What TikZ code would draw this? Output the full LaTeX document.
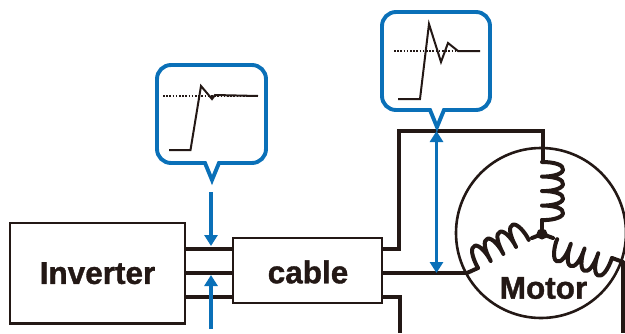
\documentclass[tikz,border=0pt]{standalone}
\usepackage{fontspec}
\setmainfont{Liberation Sans}[BoldFeatures={FakeBold=1.2}]
\usetikzlibrary{arrows.meta}
\definecolor{ink}{HTML}{231815}
\definecolor{sig}{HTML}{0A70B8}
\tikzset{
  x=1pt,y=-1pt,
  wire/.style={draw=ink,line width=3.9pt,line join=miter},
  boxn/.style={draw=ink,line width=2.8pt,fill=white,inner sep=0pt,font=\fontsize{31.5}{32}\selectfont\bfseries,text=ink},
  bubble/.style={draw=sig,line width=3.9pt,fill=white,line join=miter},
  trace/.style={draw=ink,line width=2pt,line join=miter},
  ref/.style={draw=ink,line width=1.8pt,dash pattern=on 1.6pt off 1.6pt},
  probe/.style={draw=sig,line width=3.8pt,-{Triangle[length=11pt,width=13pt]}},
  probeb/.style={draw=sig,line width=3.8pt,{Triangle[length=11pt,width=13pt]}-{Triangle[length=11pt,width=13pt]}},
  coilp/.style={draw=ink,line width=4pt,line join=round,line cap=round},
}
\newcommand{\coilfour}{%
  (0,0) .. controls (0,-13) and (3,-22) .. (8,-21) .. controls (13,-20) and (15,-7) .. (14.5,0)
  .. controls (14.5,-13) and (17.5,-22) .. (22.5,-21) .. controls (27.5,-20) and (29.5,-7) .. (29,0)
  .. controls (29,-13) and (32,-22) .. (37,-21) .. controls (42,-20) and (44,-7) .. (43.5,0)
  .. controls (43.5,-13) and (46.5,-22) .. (51.5,-21) .. controls (56.5,-20) and (58.5,-7) .. (58,0)}
\begin{document}
\begin{tikzpicture}
\useasboundingbox (0,0) rectangle (625,333);
\clip (0,0) rectangle (625,333);
\fill[white] (0,0) rectangle (625,333);

\coordinate (hub) at (542,234);
\coordinate (top) at (543,131);
\coordinate (corner) at (398.7,131);
\coordinate (coilT) at (542,162);
\coordinate (coilL) at (478,268);
\coordinate (coilR) at (612,258);

% motor
\node[circle,draw=ink,line width=2.6pt,minimum size=170pt,inner sep=0pt] (motor) at (541,233) {};

% wires
\draw[wire] (185,249) -- (233,249);
\draw[wire] (185,273) -- (233,273);
\draw[wire] (185,297) -- (233,297);
\draw[wire] (382,249) -| (corner) -- (top) -- (top |- coilT) -- (coilT);
\draw[wire] (382,273) -- (467,273);
\draw[wire] (382,297) -- (400,297) -- (400,333);
\draw[wire] (623,262) -- (623,333);

% boxes
\node[boxn,minimum width=175pt,minimum height=100.5pt] (inv) at (97.5,273.2) {Inverter};
\node[boxn,minimum width=149pt,minimum height=65pt] (cable) at (307.5,270.5) {};
\node[font=\fontsize{31.5}{32}\selectfont\bfseries,text=ink] (cablet) at (308,272) {cable};

% coils
\draw[coilp,shift={(coilT)},rotate=-90] \coilfour;
\draw[coilp,shift={(coilL)},rotate=29] \coilfour;
\draw[coilp,shift={(coilR)},rotate=161] \coilfour;
\draw[coilp] (542,220) -- (hub);
\draw[coilp] (532,238) -- (hub);
\draw[coilp] (553,238) -- (hub);
\draw[coilp] (coilL) -- (467,273);
\draw[coilp] (coilR) -- (623,262);
\fill[ink] (hub) circle (5.5);
\node[font=\fontsize{31.5}{32}\selectfont\bfseries,text=ink] (mot) at (543.5,288) {Motor};

% bubbles
\draw[bubble] (219,163) -- (212,180) -- (205,163) [rounded corners=14pt] -- (157,163) -- (157,65) -- (266,65) -- (266,163) [sharp corners] -- cycle;
\draw[bubble] (444,110) -- (437,127) -- (430,110) [rounded corners=14pt] -- (382,110) -- (382,12) -- (490,12) -- (490,110) [sharp corners] -- cycle;

% traces
\draw[ref] (163,96) -- (258,96);
\draw[trace] (169,150) -- (190.5,150) -- (201,86) -- (212,99) -- (215,95) -- (258,96);
\draw[ref] (394,50.7) -- (480,50.7);
\draw[trace] (398,99) -- (420,99) -- (429,24) -- (441,62) -- (448,43) -- (458,51) -- (480,51);

% probes
\coordinate (p1) at (211,192);
\coordinate (p1t) at (211,246);
\coordinate (p2) at (211,329);
\coordinate (p2t) at (211,275);
\coordinate (p3) at (436.5,131);
\coordinate (p3t) at (436.5,273);
\draw[probe] (p1) -- (p1t);
\draw[probe] (p2) -- (p2t);
\draw[probeb] (p3) -- (p3t);
\end{tikzpicture}
\end{document}
